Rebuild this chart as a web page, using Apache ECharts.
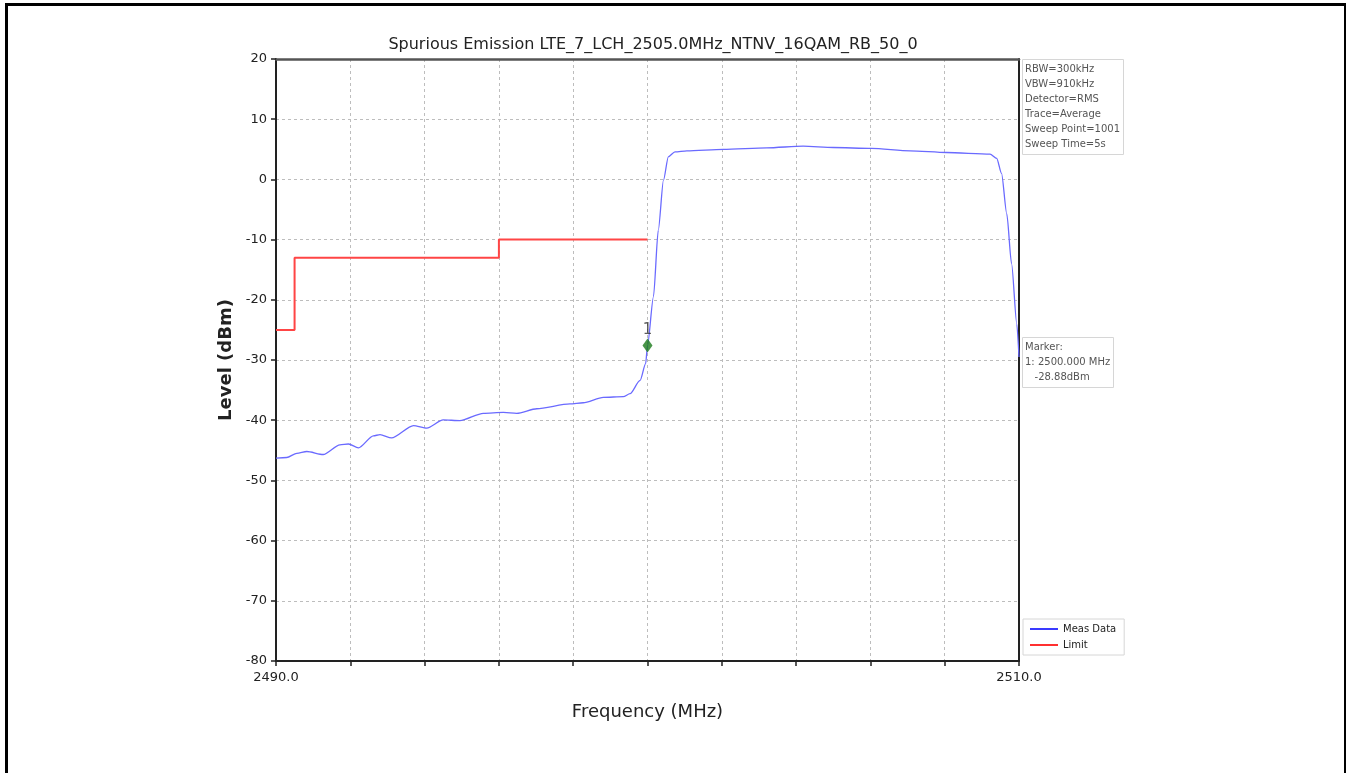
<!DOCTYPE html>
<html>
<head>
<meta charset="utf-8">
<script src="https://cdn.jsdelivr.net/npm/echarts@6/dist/echarts.min.js"></script>
<style>
html,body{margin:0;padding:0;background:#fff;}
#frame{position:absolute;left:5px;top:3px;width:1336px;height:780px;border-left:3px solid #000;border-top:3px solid #000;border-right:3px solid #000;box-sizing:content-box;}
#chart{position:absolute;left:0;top:0;width:1346px;height:773px;}
</style>
</head>
<body>
<div id="frame"></div>
<div id="chart"></div>
<script>
// ---- data ----
const titleText = 'Spurious Emission LTE_7_LCH_2505.0MHz_NTNV_16QAM_RB_50_0';
const measFreq = [2490.0, 2490.29, 2490.56, 2490.83, 2491.27, 2491.72, 2491.95, 2492.22, 2492.62, 2492.8,
  2493.11, 2493.7, 2494.06, 2494.5, 2494.95, 2495.58, 2496.12, 2496.48, 2497.02, 2497.91,
  2498.27, 2498.81, 2499.35, 2499.53, 2499.8, 2499.95, 2500.0, 2500.16, 2500.29, 2500.43,
  2500.56, 2500.74, 2501.06, 2502.04, 2503.21, 2504.19, 2505.0, 2506.03, 2507.07, 2508.05,
  2509.22, 2509.4, 2509.53, 2509.67, 2509.8, 2509.94, 2510.0];
const measLevel = [-46.3, -46.2, -45.5, -45.2, -45.7, -44.1, -43.95, -44.6, -42.6, -42.4,
  -42.95, -40.9, -41.3, -39.95, -40.07, -38.85, -38.7, -38.85, -38.1, -37.3,
  -37.1, -36.2, -36.1, -35.6, -33.4, -30.6, -27.6, -19.5, -8.45, -0.13,
  3.75, 4.58, 4.75, 5.0, 5.24, 5.52, 5.3, 5.14, 4.75, 4.47,
  4.2, 3.5, 1.0, -5.7, -14.0, -24.0, -29.5];
const limitFreq = [2490.0, 2490.5, 2490.5, 2496.0, 2496.0, 2500.0];
const limitLevel = [-25, -25, -13, -13, -10, -10];
const markerFreq = [2500.0];
const markerLevel = [-27.6];
const markerLabels = ['1'];
const xTickLabels = {2490: '2490.0', 2510: '2510.0'};
const infoLines = ['RBW=300kHz', 'VBW=910kHz', 'Detector=RMS', 'Trace=Average', 'Sweep Point=1001', 'Sweep Time=5s'];
const markerInfoLines = ['Marker:', '1: 2500.000 MHz', '   -28.88dBm'];
const seriesNames = ['Meas Data', 'Limit'];

// ---- chart ----
const chart = echarts.init(document.getElementById('chart'), null, {renderer: 'canvas'});
const FONT = '"DejaVu Sans", "Liberation Sans", sans-serif';
const gridLine = {show: true, lineStyle: {color: '#bdbdbd', type: [3, 3], width: 1}};
const infoBox = (text, left, top) => ({
  text: text, left: left, top: top,
  padding: [3, 4, 3, 3],
  borderColor: '#d6d6d6', borderWidth: 1, backgroundColor: '#fff',
  textStyle: {fontFamily: FONT, fontSize: 10, fontWeight: 'normal', color: '#555', lineHeight: 15}
});

chart.setOption({
  animation: false,
  title: [
    {text: titleText, left: 648, top: 32, textAlign: 'center',
     textStyle: {fontFamily: FONT, fontSize: 16, fontWeight: 'normal', color: '#222'}},
    infoBox(infoLines.join('\n'), 1022, 59),
    infoBox(markerInfoLines.join('\n'), 1022, 337)
  ],
  legend: {
    data: seriesNames, orient: 'vertical', left: 1023, top: 619,
    padding: [5, 8, 5, 7], itemGap: 6, itemWidth: 28, itemHeight: 2, icon: 'rect',
    borderColor: '#d6d6d6', borderWidth: 1, backgroundColor: '#fff',
    textStyle: {fontFamily: FONT, fontSize: 10, color: '#222'}
  },
  grid: {left: 276, top: 59, width: 743, height: 602, containLabel: false},
  xAxis: [{
    type: 'value', min: 2490, max: 2510, interval: 2,
    name: 'Frequency (MHz)', nameLocation: 'middle', nameGap: 42,
    nameTextStyle: {fontFamily: FONT, fontSize: 18, color: '#222'},
    axisLine: {show: true, onZero: false, lineStyle: {color: '#222', width: 2}},
    axisTick: {show: true, length: 5, lineStyle: {color: '#222', width: 1.5}},
    axisLabel: {fontFamily: FONT, fontSize: 13, color: '#222', margin: 10,
      formatter: v => xTickLabels[Math.round(v)] || ''},
    splitLine: gridLine
  }, {
    type: 'value', min: 2490, max: 2510, position: 'top',
    axisLine: {show: true, onZero: false, lineStyle: {color: '#555', width: 2.5}},
    axisTick: {show: false}, axisLabel: {show: false}, splitLine: {show: false}
  }],
  yAxis: [{
    type: 'value', min: -80, max: 20, interval: 10,
    name: 'Level (dBm)', nameLocation: 'middle', nameGap: 39,
    nameTextStyle: {fontFamily: FONT, fontSize: 18, fontWeight: 'bold', color: '#222'},
    axisLine: {show: true, onZero: false, lineStyle: {color: '#222', width: 2}},
    axisTick: {show: true, length: 5, lineStyle: {color: '#222', width: 1.5}},
    axisLabel: {fontFamily: FONT, fontSize: 13, color: '#222', margin: 9},
    splitLine: gridLine
  }, {
    type: 'value', min: -80, max: 20, position: 'right',
    axisLine: {show: true, onZero: false, lineStyle: {color: '#222', width: 2}},
    axisTick: {show: false}, axisLabel: {show: false}, splitLine: {show: false}
  }],
  series: [
    {
      name: seriesNames[0], type: 'line', showSymbol: false, symbol: 'none',
      smooth: 0.25, smoothMonotone: 'x',
      lineStyle: {color: '#6a6aff', width: 1.3}, itemStyle: {color: '#3a3aff'},
      data: measFreq.map((f, i) => [f, measLevel[i]]), z: 3
    },
    {
      name: seriesNames[1], type: 'line', showSymbol: false, symbol: 'none',
      lineStyle: {color: '#ff4545', width: 2}, itemStyle: {color: '#ff3030'},
      data: limitFreq.map((f, i) => [f, limitLevel[i]]), z: 2
    },
    {
      name: 'Marker', type: 'scatter', symbol: 'diamond', symbolSize: [10, 14],
      itemStyle: {color: '#1a7a1a'},
      label: {show: true, position: 'top', distance: 1, fontFamily: FONT, fontSize: 15, color: '#333',
        formatter: p => markerLabels[p.dataIndex]},
      data: markerFreq.map((f, i) => [f, markerLevel[i]]), z: 5
    }
  ]
});
</script>
</body>
</html>
